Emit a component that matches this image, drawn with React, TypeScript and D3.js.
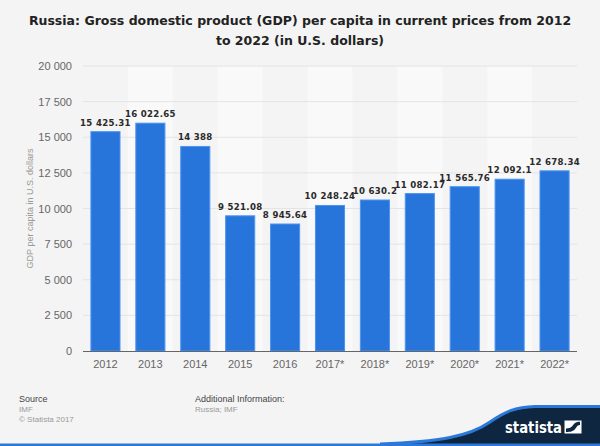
import React from "react";
import * as d3 from "d3";

const categories = ["2012", "2013", "2014", "2015", "2016", "2017*", "2018*", "2019*", "2020*", "2021*", "2022*"];
const values = [15425.31, 16022.65, 14388, 9521.08, 8945.64, 10248.24, 10630.2, 11082.17, 11565.76, 12092.1, 12678.34];
const yTicks = [0, 2500, 5000, 7500, 10000, 12500, 15000, 17500, 20000];
const titleLines = [
  "Russia: Gross domestic product (GDP) per capita in current prices from 2012",
  "to 2022 (in U.S. dollars)",
];

const W = 600;
const H = 446;
const FONT = "DejaVu Sans, sans-serif";
const SANS = "Liberation Sans, Arial, sans-serif";

const locale = d3.formatLocale({ thousands: " ", decimal: ".", grouping: [3], currency: ["", ""] });
const fmtVal = locale.format(",.2~f");
const fmtTick = locale.format(",d");

export default function App() {
  const left = 83;
  const right = 577;
  const top = 66;
  const bottom = 351;

  const x = d3.scaleBand<string>().domain(categories).range([left, right]).paddingInner(0.33).paddingOuter(0.165);
  const bands = d3.scaleBand<string>().domain(categories).range([left, right]).padding(0);
  const y = d3.scaleLinear().domain([0, 20000]).range([bottom, top]);

  return (
    <svg width={W} height={H} style={{ position: "absolute", left: 0, top: 0, display: "block" }}>
      <rect x={0} y={0} width={W} height={H} fill="#f4f4f4" />
      {titleLines.map((t, i) => (
        <text key={i} x={300} y={25 + i * 20} textAnchor="middle" fontFamily={FONT} fontWeight="bold" fontSize={12.5} fill="#222">
          {t}
        </text>
      ))}
      {categories.map((c, i) =>
        i % 2 === 1 ? (
          <rect key={c} x={bands(c)} y={top} width={bands.bandwidth()} height={bottom - top} fill="#f9f9f9" />
        ) : null
      )}
      {yTicks.map((t) => (
        <g key={t}>
          {t > 0 && <line x1={left} x2={right} y1={y(t)} y2={y(t)} stroke="#e4e4e4" strokeWidth={1} />}
          <text x={72} y={y(t) + 4} textAnchor="end" fontFamily={SANS} fontSize={11} fill="#666">
            {fmtTick(t)}
          </text>
        </g>
      ))}
      {categories.map((c, i) => (
        <g key={c}>
          <rect
            x={x(c)! + 0.5}
            y={y(values[i]) + 0.5}
            width={x.bandwidth() - 1}
            height={bottom - y(values[i]) - 0.5}
            fill="#2775db"
            stroke="#4b93f2"
            strokeWidth={1}
          />
          <text
            x={x(c)! + x.bandwidth() / 2}
            y={y(values[i]) - 5.5}
            textAnchor="middle"
            fontFamily={FONT}
            fontWeight="bold"
            fontSize={8.6}
            letterSpacing={0.3}
            fill="#2a2a2a"
          >
            {fmtVal(values[i])}
          </text>
          <text x={x(c)! + x.bandwidth() / 2} y={bottom + 17} textAnchor="middle" fontFamily={SANS} fontSize={11} fill="#666">
            {c}
          </text>
        </g>
      ))}
      <line x1={left} x2={right} y1={bottom + 0.5} y2={bottom + 0.5} stroke="#666" strokeWidth={1.2} />
      <text
        transform={`translate(33,${(top + bottom) / 2}) rotate(-90)`}
        textAnchor="middle"
        fontFamily={SANS}
        fontSize={9}
        fill="#999"
      >
        GDP per capita in U.S. dollars
      </text>

      {/* footer */}
      <text x={19} y={402} fontFamily={SANS} fontSize={9} fill="#444">Source</text>
      <text x={19} y={412} fontFamily={SANS} fontSize={8} fill="#999">IMF</text>
      <text x={19} y={422} fontFamily={SANS} fontSize={8} fill="#999">© Statista 2017</text>
      <text x={195} y={402} fontFamily={SANS} fontSize={9} fill="#444">Additional Information:</text>
      <text x={195} y={412} fontFamily={SANS} fontSize={8} fill="#999">Russia; IMF</text>

      {/* logo band */}
      <path d="M380,444 C440,442 470,436 490,422 C505,412 515,407 535,406.5 L600,406.5 L600,446 L380,446 Z" fill="#0f2640" />
      <path d="M380,444 C440,442 470,436 490,422 C505,412 515,407 535,406.5 L600,406.5" fill="none" stroke="#2a78d8" strokeWidth={3} />
      <rect x={0} y={443.5} width={W} height={2.5} fill="#2a78d8" />
      <text
        x={505}
        y={432.5}
        fontFamily="DejaVu Sans Condensed, DejaVu Sans, sans-serif"
        fontWeight="bold"
        fontSize={16}
        fill="#fff"
        textLength={57}
        lengthAdjust="spacingAndGlyphs"
      >
        statista
      </text>
      <rect x={564.5} y={420.5} width={17} height={13} fill="#fff" />
      <path d="M566,432 L566,428.5 C569,428.5 571.5,427.5 573.5,424.5 C575.5,422 577.5,421.8 580,421.8 L580,425 C578,425 577,426 575.5,428.5 C573.5,431.3 571,432 566,432 Z" fill="#0f2640" />
    </svg>
  );
}
